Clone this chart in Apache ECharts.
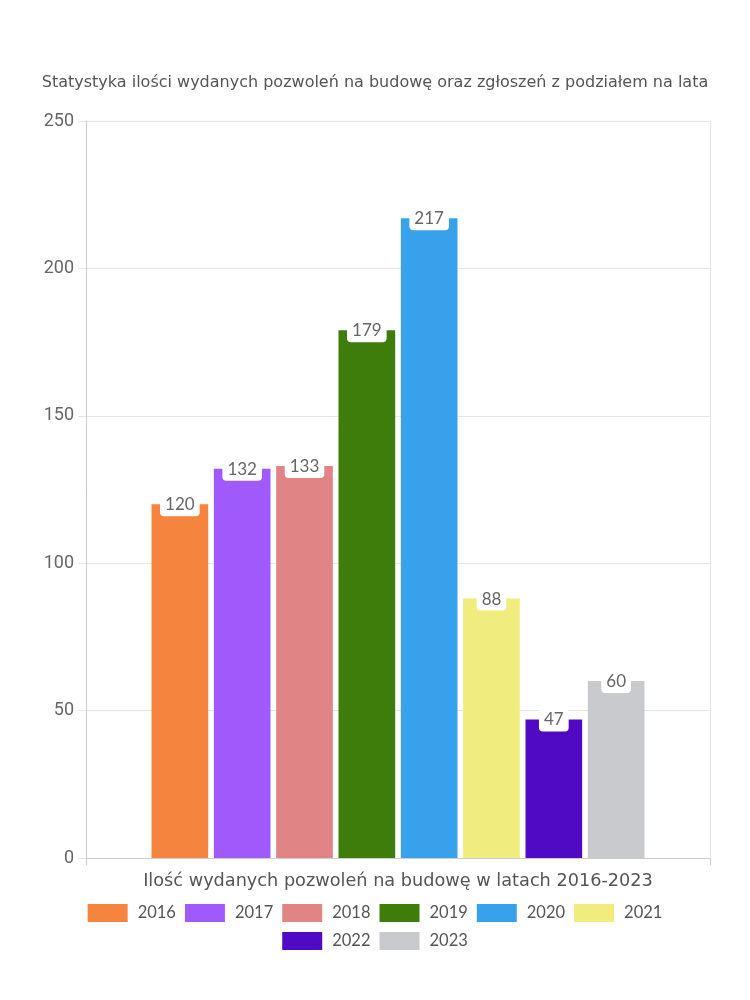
<!DOCTYPE html>
<html><head><meta charset="utf-8">
<script src="https://cdn.jsdelivr.net/npm/echarts@6/dist/echarts.min.js"></script>
<style>html,body{margin:0;padding:0;background:#fff}#c{width:750px;height:1000px}</style>
</head><body><div id="c"></div>
<script>
const categories = ['Ilość wydanych pozwoleń na budowę w latach 2016-2023'];
const years = ['2016','2017','2018','2019','2020','2021','2022','2023'];
const values = [120,132,133,179,217,88,47,60];
const colors = ['#F5843F','#A05AFC','#E18485','#3E7C0C','#37A2EB','#F0EC7E','#510AC4','#C9CACE'];
const yTicks = {min:0, max:250, interval:50};
const wideFont = '"DejaVu Sans", sans-serif';
const font = 'Lato, "Noto Sans", sans-serif';

const legendBase = {itemWidth:40,itemHeight:18,itemGap:9,icon:'rect',left:'center',
  textStyle:{fontFamily:font,fontSize:16.5,color:'#555',padding:[0,0,0,5]}};

const chart = echarts.init(document.getElementById('c'));
chart.setOption({
  animation:false,
  title:{text:'Statystyka ilości wydanych pozwoleń na budowę oraz zgłoszeń z podziałem na lata',left:'center',top:70,
    textStyle:{fontFamily:wideFont,fontSize:16,fontWeight:'normal',color:'#555'}},
  grid:{left:86,right:40,top:121,bottom:142},
  legend:[
    Object.assign({}, legendBase, {top:899, data:years.slice(0,6)}),
    Object.assign({}, legendBase, {top:927, data:years.slice(6)})
  ],
  xAxis:{type:'category',data:categories,
    axisLine:{lineStyle:{color:'#ccc'}},axisTick:{show:true,length:7,lineStyle:{color:'#ccc'}},
    axisLabel:{fontFamily:wideFont,fontSize:17.7,color:'#555',margin:14},
    splitLine:{show:true,lineStyle:{color:'#e6e6e6'}}},
  yAxis:{type:'value',min:yTicks.min,max:yTicks.max,interval:yTicks.interval,
    axisLine:{show:true,lineStyle:{color:'#ccc'}},axisTick:{show:true,length:8,lineStyle:{color:'#e6e6e6'}},
    axisLabel:{fontFamily:'Roboto, sans-serif',fontSize:18,color:'#666',margin:12},
    splitLine:{lineStyle:{color:'#e6e6e6'}}},
  series: years.map((y,i)=>({
    name:y,type:'bar',data:[values[i]],barGap:'10%',barCategoryGap:'21%',
    itemStyle:{color:colors[i]},
    label:{show:true,position:'insideTop',distance:0,offset:[0,-11],
      backgroundColor:'#fff',borderRadius:[0,0,4,4],padding:[3,5,3,5],
      fontFamily:font,fontSize:17,color:'#666'}
  }))
});
</script></body></html>
